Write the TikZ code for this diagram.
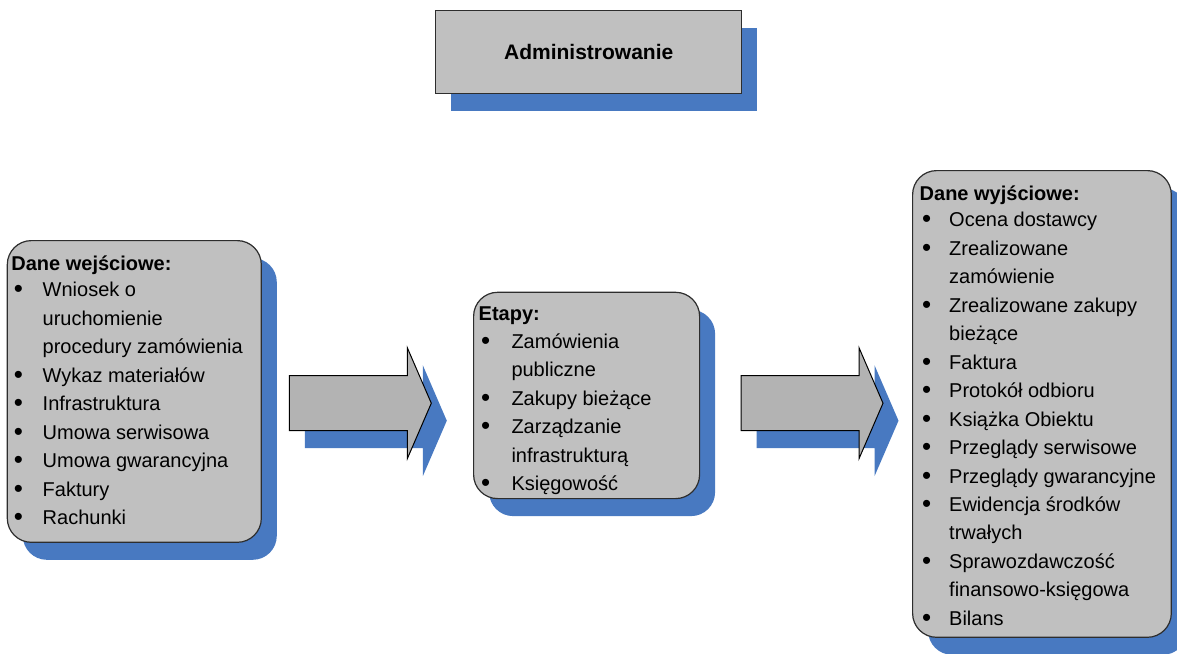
\documentclass[tikz,border=0pt]{standalone}
\usepackage{fontspec}
\usepackage{graphicx}
\setmainfont{Liberation Sans}
\usetikzlibrary{shadows}

\definecolor{boxgray}{RGB}{192,192,192}
\definecolor{arrowgray}{RGB}{179,179,179}
\definecolor{shadowblue}{RGB}{72,121,193}
\definecolor{edgegray}{RGB}{45,45,45}

% width of the bullet column in the lists
\newlength\itemcol
\newcommand\bul{\makebox[\itemcol][l]{\hspace{2.5pt}\raisebox{-1pt}{\scalebox{1.3}{\textbullet}}}}

\begin{document}
\begin{tikzpicture}[x=1pt,y=-1pt,
  blueshadow/.style={drop shadow={shadow xshift=15.5pt,shadow yshift=-17.5pt,
      fill=shadowblue,opacity=1}},
  headbox/.style={draw=edgegray,line width=1.2pt,fill=boxgray,blueshadow,
      minimum width=306pt,minimum height=83pt,inner sep=0pt,
      font=\fontsize{21}{25}\selectfont\bfseries},
  panel/.style={draw=edgegray,line width=1.2pt,fill=boxgray,blueshadow,
      rounded corners=24pt,anchor=north west,inner sep=0pt},
  listtext/.style={anchor=base west,inner sep=0pt,
      font=\fontsize{20}{28.45}\selectfont},
  blockarrow/.style={draw=black,line width=1pt,fill=arrowgray,blueshadow,
      line join=miter}]

\clip (0,0) rectangle (1177,653);

% heading box
\node[headbox] (admin) at (588.7,52.3) {Administrowanie};

% the three panels
\node[panel,minimum width=254pt,minimum height=301.7pt] (inbox) at (6.7,240) {};
\node[panel,minimum width=226pt,minimum height=206.3pt] (stages) at (473,291.7) {};
\node[panel,minimum width=258.7pt,minimum height=466.7pt] (outbox) at (912,170) {};

% block arrows between the panels
\coordinate (arrowA) at (289.3,403.2);
\coordinate (arrowB) at (741,403.2);
\foreach \a in {arrowA,arrowB}{
  \draw[blockarrow,shift={(\a)}]
    (0,-27.5) -- (118,-27.5) -- (118,-55.5) -- (142,0)
    -- (118,55.5) -- (118,27.5) -- (0,27.5) -- cycle;
}

% panel contents
\node[listtext] (intext) at (11.2,270) {\setlength\itemcol{31.3pt}%
\begin{tabular}[t]{@{}l@{}l@{}}
\multicolumn{2}{@{}l@{}}{\bfseries Dane wejściowe:}\\[-1.5pt]
\bul & Wniosek o\\
     & uruchomienie\\
     & procedury zamówienia\\
\bul & Wykaz materiałów\\
\bul & Infrastruktura\\
\bul & Umowa serwisowa\\
\bul & Umowa gwarancyjna\\
\bul & Faktury\\
\bul & Rachunki
\end{tabular}};

\node[listtext] (stagetext) at (478.5,320) {\setlength\itemcol{32.8pt}%
\begin{tabular}[t]{@{}l@{}l@{}}
\multicolumn{2}{@{}l@{}}{\bfseries Etapy:}\\
\bul & Zamówienia\\
     & publiczne\\
\bul & Zakupy bieżące\\
\bul & Zarządzanie\\
     & infrastrukturą\\
\bul & Księgowość
\end{tabular}};

\node[listtext] (outtext) at (919.5,200) {\setlength\itemcol{29.5pt}%
\begin{tabular}[t]{@{}l@{}l@{}}
\multicolumn{2}{@{}l@{}}{\bfseries Dane wyjściowe:}\\[-1.5pt]
\bul & Ocena dostawcy\\
\bul & Zrealizowane\\
     & zamówienie\\
\bul & Zrealizowane zakupy\\
     & bieżące\\
\bul & Faktura\\
\bul & Protokół odbioru\\
\bul & Książka Obiektu\\
\bul & Przeglądy serwisowe\\
\bul & Przeglądy gwarancyjne\\
\bul & Ewidencja środków\\
     & trwałych\\
\bul & Sprawozdawczość\\
     & finansowo-księgowa\\
\bul & Bilans
\end{tabular}};

\end{tikzpicture}
\end{document}
